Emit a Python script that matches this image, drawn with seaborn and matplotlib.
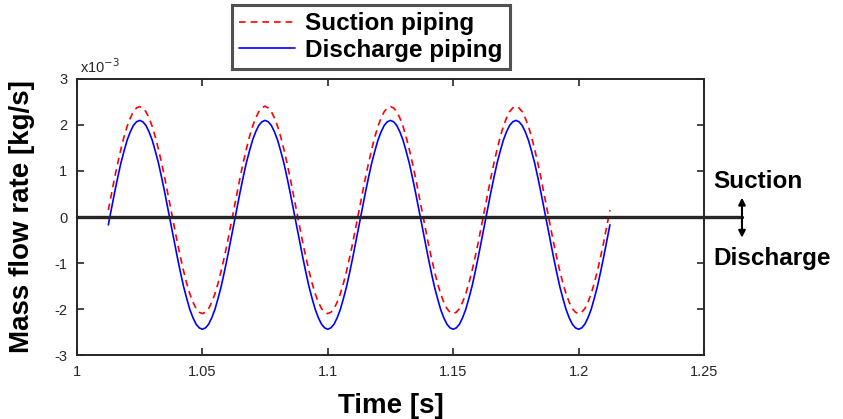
import numpy as np
import pandas as pd
import matplotlib
matplotlib.use("Agg")
import matplotlib.pyplot as plt
import seaborn as sns

# sample times [s]
time_s = np.round(np.arange(1.0125, 1.21251, 0.00125), 5)

# mass flow rate, x10^-3 kg/s
suction = [0.15, 0.50, 0.85, 1.17, 1.47, 1.74, 1.97, 2.15, 2.29, 2.37, 2.40, 2.37, 2.29, 2.15, 1.97, 1.74, 1.47, 1.17, 0.85, 0.50,
           0.15, -0.20, -0.55, -0.87, -1.17, -1.44, -1.67, -1.85, -1.99, -2.07, -2.10, -2.07, -1.99, -1.85, -1.67, -1.44, -1.17, -0.87, -0.55, -0.20,
           0.15, 0.50, 0.85, 1.17, 1.47, 1.74, 1.97, 2.15, 2.29, 2.37, 2.41, 2.37, 2.29, 2.15, 1.97, 1.74, 1.47, 1.17, 0.85, 0.50,
           0.15, -0.20, -0.55, -0.87, -1.17, -1.44, -1.67, -1.85, -1.99, -2.07, -2.10, -2.07, -1.99, -1.85, -1.67, -1.44, -1.17, -0.87, -0.55, -0.20,
           0.15, 0.50, 0.85, 1.17, 1.47, 1.74, 1.97, 2.15, 2.29, 2.37, 2.40, 2.37, 2.29, 2.15, 1.97, 1.74, 1.47, 1.17, 0.85, 0.50,
           0.15, -0.20, -0.55, -0.87, -1.17, -1.44, -1.67, -1.85, -1.99, -2.07, -2.10, -2.07, -1.99, -1.85, -1.67, -1.44, -1.17, -0.87, -0.55, -0.20,
           0.15, 0.50, 0.85, 1.17, 1.47, 1.74, 1.97, 2.15, 2.29, 2.37, 2.41, 2.37, 2.29, 2.15, 1.97, 1.74, 1.47, 1.17, 0.85, 0.50,
           0.15, -0.20, -0.55, -0.87, -1.17, -1.44, -1.67, -1.85, -1.99, -2.07, -2.10, -2.07, -1.99, -1.85, -1.67, -1.44, -1.17, -0.87, -0.55, -0.20,
           0.15]
discharge = [-0.17, 0.18, 0.53, 0.86, 1.17, 1.43, 1.67, 1.85, 1.99, 2.07, 2.10, 2.07, 1.99, 1.85, 1.67, 1.43, 1.17, 0.86, 0.53, 0.18,
             -0.17, -0.52, -0.87, -1.20, -1.51, -1.77, -2.01, -2.19, -2.33, -2.41, -2.44, -2.41, -2.33, -2.19, -2.01, -1.77, -1.51, -1.20, -0.87, -0.52,
             -0.17, 0.18, 0.53, 0.86, 1.17, 1.43, 1.67, 1.85, 1.99, 2.07, 2.10, 2.07, 1.99, 1.85, 1.67, 1.43, 1.17, 0.86, 0.53, 0.18,
             -0.17, -0.52, -0.87, -1.20, -1.51, -1.77, -2.01, -2.19, -2.33, -2.41, -2.44, -2.41, -2.33, -2.19, -2.01, -1.77, -1.51, -1.20, -0.87, -0.52,
             -0.17, 0.18, 0.53, 0.86, 1.17, 1.43, 1.67, 1.85, 1.99, 2.07, 2.10, 2.07, 1.99, 1.85, 1.67, 1.43, 1.17, 0.86, 0.53, 0.18,
             -0.17, -0.52, -0.87, -1.20, -1.51, -1.77, -2.01, -2.19, -2.33, -2.41, -2.44, -2.41, -2.33, -2.19, -2.01, -1.77, -1.51, -1.20, -0.87, -0.52,
             -0.17, 0.18, 0.53, 0.86, 1.17, 1.43, 1.67, 1.85, 1.99, 2.07, 2.10, 2.07, 1.99, 1.85, 1.67, 1.43, 1.17, 0.86, 0.53, 0.18,
             -0.17, -0.52, -0.87, -1.20, -1.51, -1.77, -2.01, -2.19, -2.33, -2.41, -2.44, -2.41, -2.33, -2.19, -2.01, -1.77, -1.51, -1.20, -0.87, -0.52,
             -0.17]

x_ticks = [1.0, 1.05, 1.1, 1.15, 1.2, 1.25]
x_ticklabels = ["1", "1.05", "1.1", "1.15", "1.2", "1.25"]
y_ticks = [-3, -2, -1, 0, 1, 2, 3]

df = pd.DataFrame({
    "Time": np.concatenate([time_s, time_s]),
    "Flow": suction + discharge,
    "Series": ["Suction piping"] * len(time_s) + ["Discharge piping"] * len(time_s),
})

sns.set_style("white")
bold_fam = ["Liberation Sans Narrow", "Liberation Sans", "DejaVu Sans"]
plt.rcParams["font.family"] = ["Liberation Sans", "DejaVu Sans"]
plt.rcParams["axes.unicode_minus"] = False

fig = plt.figure(figsize=(8.43, 4.19), dpi=100)
ax = fig.add_axes([0.0913, 0.1527, 0.7438, 0.6588])

sns.lineplot(data=df, x="Time", y="Flow", hue="Series", style="Series",
             palette={"Suction piping": "#ff0000", "Discharge piping": "#0000ff"},
             dashes={"Suction piping": (4, 3), "Discharge piping": ""},
             linewidth=1.2, ax=ax, legend=True)

# zero line that runs past the axes
ax.axhline(0, xmin=0, xmax=1.06, color="#262626", lw=2.4, clip_on=False, zorder=3)

ax.set_xlim(1.0, 1.25)
ax.set_ylim(-3, 3)
ax.set_xticks(x_ticks)
ax.set_xticklabels(x_ticklabels)
ax.set_yticks(y_ticks)
ax.tick_params(direction="in", length=5, width=1.2, top=True, right=True,
               bottom=True, left=True, labelsize=10.5, colors="#262626", pad=7)
for s in ax.spines.values():
    s.set_color("#262626")
    s.set_linewidth(1.4)

ax.set_xlabel("Time [s]", fontsize=20, fontweight="bold", family=bold_fam,
              labelpad=10, color="black")
ax.set_ylabel("Mass flow rate [kg/s]", fontsize=20, fontweight="bold", family=bold_fam,
              labelpad=14, color="black")
ax.text(0.005, 1.01, r"x10$^{-3}$", transform=ax.transAxes, fontsize=10.5,
        color="#262626", va="bottom", ha="left")

# direction arrow and labels
ax.annotate("", xy=(1.0606, 0.58), xytext=(1.0606, 0.415), xycoords="axes fraction",
            textcoords="axes fraction",
            arrowprops=dict(arrowstyle="<|-|>", color="black", lw=1.5, mutation_scale=10),
            annotation_clip=False)
ax.text(1.0145, 0.63, "Suction", transform=ax.transAxes, fontsize=17.5, color="black",
        fontweight="bold", family=bold_fam, va="center", ha="left", clip_on=False)
ax.text(1.0145, 0.35, "Discharge", transform=ax.transAxes, fontsize=17.5, color="black",
        fontweight="bold", family=bold_fam, va="center", ha="left", clip_on=False)

handles, labels = ax.get_legend_handles_labels()
leg = ax.legend(handles, labels, loc="upper left", bbox_to_anchor=(232 / 843, 1 - 5 / 419),
                bbox_transform=fig.transFigure, frameon=True, fancybox=False,
                prop={"family": bold_fam, "weight": "bold", "size": 17.5},
                handlelength=2.3, handletextpad=0.4, borderpad=0.3, labelspacing=0.15,
                borderaxespad=0)
leg.get_frame().set_edgecolor("#262626")
leg.get_frame().set_linewidth(2.2)
for t in leg.get_texts():
    t.set_color("black")

fig.savefig("out.png", dpi=100)
